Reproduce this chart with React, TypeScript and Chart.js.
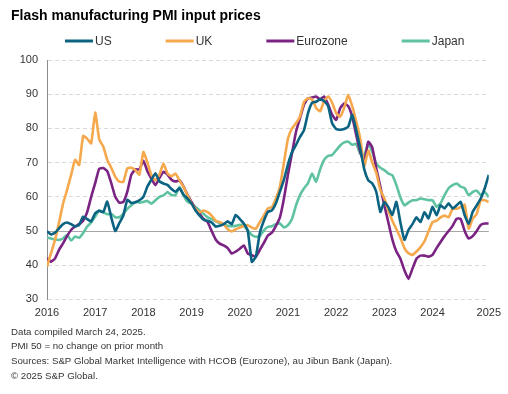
import React, { useEffect, useRef } from 'react';
import { Chart, registerables } from 'chart.js';

Chart.register(...registerables);

const TITLE = 'Flash manufacturing PMI input prices';
const FOOTNOTES = [
  'Data compiled March 24, 2025.',
  'PMI 50 = no change on prior month',
  'Sources: S&P Global Market Intelligence with HCOB (Eurozone), au Jibun Bank (Japan).',
  '\u00A9 2025 S&P Global.',
];

// Monthly observations, January 2016 to March 2025
const YEAR_LABELS = ['2016', '2017', '2018', '2019', '2020', '2021', '2022', '2023', '2024', '2025'];
const SERIES_NAMES = ['US', 'UK', 'Eurozone', 'Japan'];
const SERIES_COLORS = ['#0b6381', '#f5a84c', '#7b2383', '#5fc2a0'];

const US = [
  49.9, 49.0, 49.5, 50.8, 52.0, 52.5, 52.0, 51.3, 51.8, 54.2, 53.5, 52.8,
  55.2, 55.9, 55.5, 58.6, 54.0, 50.0, 52.3, 54.5, 59.1, 58.2, 58.4, 59.0,
  60.0, 63.0, 65.0, 66.9, 64.5, 63.9, 63.5, 62.3, 61.5, 62.5, 60.6, 59.5,
  58.0, 56.0, 54.5, 53.3, 53.0, 52.5, 51.3, 51.5, 52.0, 52.8, 52.0, 54.7,
  53.5, 52.2, 50.0, 41.0, 42.5, 49.5, 53.0, 55.6, 56.0, 58.1, 61.5, 65.0,
  69.5, 73.0, 75.2, 77.5, 79.5, 84.5, 87.5, 87.8, 88.5, 88.0, 86.5, 81.5,
  79.8, 79.6, 79.8, 80.5, 84.0, 79.5, 74.1, 68.0, 64.8, 63.9, 61.4, 55.6,
  58.5, 57.0, 54.7, 58.5, 52.5, 47.4, 50.3, 52.0, 54.0, 52.6, 55.5, 53.7,
  57.1, 54.6, 57.5, 56.6, 58.1, 56.6, 57.5, 58.5, 54.6, 52.1, 55.6, 57.5,
  59.5, 62.5, 66.4,
];

const UK = [
  39.6, 43.5, 47.4, 52.5, 58.0, 62.0, 66.4, 70.8, 69.3, 77.8, 77.0, 75.6,
  84.6, 76.8, 74.7, 70.8, 68.5, 65.9, 64.4, 64.4, 68.3, 68.5, 67.8, 66.5,
  73.1, 70.0, 66.3, 64.8, 66.5, 69.7, 66.8, 66.0, 66.8, 64.8, 62.9, 60.4,
  58.0, 56.5, 55.5, 56.0, 55.5, 54.5, 53.0, 52.6, 52.0, 50.5, 49.9, 50.5,
  51.0, 51.5, 51.7, 51.0, 50.7, 52.6, 54.5, 56.6, 57.0, 59.5, 63.0, 70.0,
  77.0, 80.0, 81.5, 83.5, 87.8, 88.8, 88.5, 86.0, 85.0, 88.0, 89.3, 87.5,
  84.5, 83.4, 86.0, 89.8, 86.5, 82.0, 77.0, 69.0, 73.5, 70.0, 67.0, 62.0,
  59.5, 56.0, 53.0, 50.5, 48.0, 45.0, 43.5, 43.0, 44.0, 45.3, 47.0, 49.9,
  52.6, 53.0, 54.0, 54.5, 54.0, 56.5, 56.5, 57.0, 57.7, 50.7, 53.6, 55.0,
  59.0, 59.0, 58.5,
];

const EUROZONE = [
  42.0, 41.0, 42.0, 44.5, 46.4, 48.5, 50.3, 51.3, 52.0, 53.0, 55.5, 60.0,
  64.0, 68.2, 68.4, 67.5, 64.0, 60.0, 58.3, 58.5, 61.5, 66.5, 68.0, 68.0,
  70.5, 67.5, 65.3, 63.4, 65.5, 67.3, 66.5, 65.0, 64.5, 64.8, 63.0, 60.5,
  58.5, 56.5, 55.0, 53.5, 52.6, 50.0, 47.5, 46.3, 45.8, 45.0, 43.4, 44.0,
  44.8, 45.8, 43.4, 42.9, 42.5, 44.5, 46.5, 48.7, 49.5, 51.5, 54.0, 59.5,
  66.5, 72.7, 79.0, 83.0, 87.0, 88.8, 89.0, 89.3, 88.5, 89.3, 87.0, 84.0,
  82.5, 85.9, 87.3, 86.5, 83.4, 78.0, 73.1, 70.2, 76.1, 74.4, 68.3, 63.0,
  57.5, 52.5, 47.5, 44.0, 41.9, 38.5, 36.0, 39.0, 41.9, 42.8, 42.8, 42.5,
  43.0, 45.0, 46.8, 48.5, 50.0, 51.5, 53.6, 53.5, 50.0, 47.8, 48.5, 50.0,
  51.8, 52.2, 52.2,
];

const JAPAN = [
  48.1, 47.8, 47.5, 47.4, 47.8, 48.9, 47.2, 48.4, 48.0, 49.4, 51.3, 52.5,
  54.2, 56.0, 55.5, 54.9, 55.0, 54.0, 54.0, 55.0, 56.5, 57.5, 58.5, 58.3,
  58.5, 58.8, 58.0, 59.0, 60.0, 60.4, 61.4, 60.5, 60.5, 62.9, 60.4, 58.5,
  58.0, 57.0, 56.0, 55.0, 54.0, 53.5, 52.8, 52.3, 51.9, 51.5, 51.4, 51.5,
  51.8, 51.5, 50.2, 48.8, 48.3, 48.5, 50.2, 51.2, 51.4, 52.0, 52.2, 51.0,
  51.7, 53.5, 57.5, 60.5, 62.5, 64.0, 66.8, 64.4, 68.0, 70.8, 72.0, 72.2,
  73.6, 75.0, 75.9, 76.1, 75.2, 75.5, 72.5, 72.2, 75.6, 73.1, 69.7, 68.5,
  67.8, 66.8, 66.3, 63.4, 59.8, 57.5, 58.3, 59.0, 59.0, 59.5, 59.3, 59.0,
  59.0, 57.1, 58.1, 60.5, 62.5, 63.4, 63.9, 63.0, 62.5, 60.5, 61.4, 61.8,
  60.5, 61.4, 59.9,
];

const SERIES = [US, UK, EUROZONE, JAPAN];
const Y_MIN = 30;
const Y_MAX = 100;
const Y_STEP = 10;
const NO_CHANGE = 50;

const FONT = '"Liberation Sans", Arial, Helvetica, sans-serif';

const decorPlugin = {
  id: 'decor',
  beforeDatasetsDraw(chart: any) {
    // solid reference line at 50 (no change)
    const { ctx, chartArea, scales } = chart;
    const y = Math.round(scales.y.getPixelForValue(NO_CHANGE)) + 0.5;
    ctx.save();
    ctx.strokeStyle = '#a6a6a6';
    ctx.lineWidth = 1;
    ctx.setLineDash([]);
    ctx.beginPath();
    ctx.moveTo(chartArea.left, y);
    ctx.lineTo(chartArea.right, y);
    ctx.stroke();
    ctx.restore();
  },
  afterDraw(chart: any) {
    const { ctx } = chart;
    ctx.save();
    // title
    ctx.fillStyle = '#000000';
    ctx.font = `bold 14px ${FONT}`;
    ctx.textBaseline = 'alphabetic';
    ctx.textAlign = 'left';
    ctx.fillText(TITLE, 11, 20);

    // legend
    ctx.font = `12px ${FONT}`;
    ctx.textBaseline = 'middle';
    let x = 65;
    const ly = 41;
    chart.data.datasets.forEach((ds: any) => {
      ctx.strokeStyle = ds.borderColor;
      ctx.lineWidth = 3;
      ctx.beginPath();
      ctx.moveTo(x, ly);
      ctx.lineTo(x + 28, ly);
      ctx.stroke();
      ctx.fillStyle = '#333333';
      ctx.fillText(ds.label, x + 30, ly + 0.5);
      x += 30 + ctx.measureText(ds.label).width + 54;
    });

    // footnotes
    ctx.font = `9.7px ${FONT}`;
    ctx.fillStyle = '#333333';
    ctx.textBaseline = 'middle';
    FOOTNOTES.forEach((line, i) => {
      ctx.fillText(line, 11, 332 + i * 14.8);
    });
    ctx.restore();
  },
};

function ChartCanvas() {
  const ref = useRef<HTMLCanvasElement | null>(null);
  useEffect(() => {
    if (!ref.current) return;
    const chart = new Chart(ref.current, {
      type: 'line',
      data: {
        datasets: SERIES.map((vals, i) => ({
          label: SERIES_NAMES[i],
          data: vals.map((v, m) => ({ x: m, y: v })),
          borderColor: SERIES_COLORS[i],
          backgroundColor: SERIES_COLORS[i],
          borderWidth: 2.6,
          pointRadius: 0,
          tension: 0.15,
          fill: false,
        })),
      },
      options: {
        responsive: false,
        animation: false,
        layout: { padding: { left: 0, right: 12, top: 60, bottom: 72.6 } },
        plugins: {
          legend: { display: false },
          title: { display: false },
          tooltip: { enabled: false },
        },
        scales: {
          x: {
            type: 'linear',
            min: 0,
            max: SERIES[0].length - 1,
            grid: { display: false, drawTicks: false },
            border: { display: false },
            ticks: {
              stepSize: 12,
              padding: 7,
              autoSkip: false,
              maxRotation: 0,
              color: '#333333',
              font: { family: FONT, size: 11 },
              callback: (v: any) => YEAR_LABELS[Math.round(Number(v) / 12)] ?? '',
            },
            afterFit: (s: any) => { s.height = 22; },
          },
          y: {
            min: Y_MIN,
            max: Y_MAX,
            grid: { color: '#d9d9d9', lineWidth: 1, drawTicks: false },
            border: { display: true, color: '#8c8c8c', width: 1, dash: [4, 3] },
            ticks: {
              stepSize: Y_STEP,
              padding: 9,
              color: '#333333',
              font: { family: FONT, size: 11 },
            },
            afterFit: (s: any) => { s.width = 47; },
          },
        },
      },
      plugins: [decorPlugin],
    });
    return () => chart.destroy();
  }, []);
  return <canvas ref={ref} width={508} height={394} style={{ display: 'block', width: 508, height: 394 }} />;
}

export default function App() {
  return (
    <div style={{ position: 'fixed', left: 0, top: 0, width: 508, height: 394, background: '#ffffff' }}>
      <ChartCanvas />
    </div>
  );
}
